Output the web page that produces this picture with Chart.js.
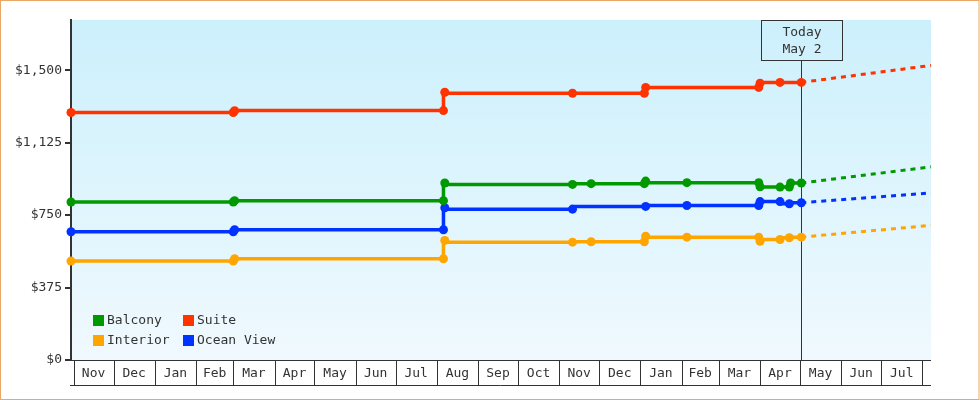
<!DOCTYPE html>
<html>
<head>
<meta charset="utf-8">
<script src="https://cdn.jsdelivr.net/npm/chart.js@4/dist/chart.umd.min.js"></script>
<style>
  html, body { margin: 0; padding: 0; background: #fff; }
  canvas { display: block; }
</style>
</head>
<body>
<canvas id="fareChart" width="980" height="400"></canvas>
<script>
// Cabin fare history (stepped) with a dashed projection past today.
const GREEN = '#009900', RED = '#FF3300', ORANGE = '#FFA500', BLUE = '#0033FF';
const INK = '#333333', FRAME = '#E9A863';
const FONT = "'DejaVu Sans Mono', 'Liberation Mono', monospace";

const X_MIN = '2021-10-30', X_MAX = '2023-08-07T12:00:00Z';
const FIRST_MONTH = [2021, 10]; // Nov 2021 (0-based month)
const MONTH_LABELS = ['Nov', 'Dec', 'Jan', 'Feb', 'Mar', 'Apr', 'May', 'Jun', 'Jul', 'Aug', 'Sep', 'Oct',
  'Nov', 'Dec', 'Jan', 'Feb', 'Mar', 'Apr', 'May', 'Jun', 'Jul'];
const Y_TICKS = [0, 375, 750, 1125, 1500];
const Y_MAX = 1760;

const TODAY = '2023-05-02';
const TODAY_LABEL = ['Today', 'May 2'];

const BALCONY_DATES = ['2021-10-30', '2022-03-01', '2022-03-02', '2022-08-06', '2022-08-07', '2022-11-11', '2022-11-25',
  '2023-01-04', '2023-01-05', '2023-02-05', '2023-03-31', '2023-04-01', '2023-04-16', '2023-04-23', '2023-04-24', '2023-05-02'];
const BALCONY = [818, 818, 825, 825, 916, 909, 913, 913, 926, 918, 918, 897, 895, 895, 916, 916];

const SUITE_DATES = ['2021-10-30', '2022-03-01', '2022-03-02', '2022-08-06', '2022-08-07', '2022-11-11',
  '2023-01-04', '2023-01-05', '2023-03-31', '2023-04-01', '2023-04-16', '2023-05-02'];
const SUITE = [1281, 1281, 1290, 1291, 1386, 1381, 1381, 1411, 1411, 1433, 1437, 1437];

const INTERIOR_DATES = ['2021-10-30', '2022-03-01', '2022-03-02', '2022-08-06', '2022-08-07', '2022-11-11', '2022-11-25',
  '2023-01-04', '2023-01-05', '2023-02-05', '2023-03-31', '2023-04-01', '2023-04-16', '2023-04-23', '2023-05-02'];
const INTERIOR = [512, 512, 524, 524, 619, 610, 612, 612, 641, 636, 636, 615, 624, 633, 636];

const OCEAN_DATES = ['2021-10-30', '2022-03-01', '2022-03-02', '2022-08-06', '2022-08-07', '2022-11-11',
  '2023-01-05', '2023-02-05', '2023-03-31', '2023-04-01', '2023-04-16', '2023-04-23', '2023-05-02'];
const OCEAN = [664, 664, 674, 674, 788, 781, 795, 800, 800, 820, 820, 809, 814];

const FORECAST_DATES = ['2023-05-02', '2023-08-07T12:00:00Z'];
const BALCONY_FC = [916, 1000];
const SUITE_FC = [1437, 1525];
const INTERIOR_FC = [636, 697];
const OCEAN_FC = [814, 865];

const SERIES = [
  { label: 'Balcony', color: GREEN, dates: BALCONY_DATES, values: BALCONY, fc: BALCONY_FC },
  { label: 'Suite', color: RED, dates: SUITE_DATES, values: SUITE, fc: SUITE_FC },
  { label: 'Interior', color: ORANGE, dates: INTERIOR_DATES, values: INTERIOR, fc: INTERIOR_FC },
  { label: 'Ocean View', color: BLUE, dates: OCEAN_DATES, values: OCEAN, fc: OCEAN_FC },
];

const ms = (d) => new Date(d).getTime();
const points = (dates, values) => dates.map((d, i) => ({ x: ms(d), y: values[i] }));

const datasets = [];
for (const s of SERIES) {
  datasets.push({
    label: s.label, data: points(s.dates, s.values), borderColor: s.color, backgroundColor: s.color,
    borderWidth: 3.5, stepped: 'after', pointRadius: 4.5, pointBorderWidth: 0, pointHoverRadius: 4.5, clip: false,
  });
  datasets.push({
    label: s.label + ' forecast', data: points(FORECAST_DATES, s.fc), borderColor: s.color,
    borderWidth: 3, borderDash: [5, 5], pointRadius: 0, pointHoverRadius: 0, clip: false,
  });
}

function monthStarts() {
  const out = [];
  for (let i = 0; i <= MONTH_LABELS.length; i++) out.push(Date.UTC(FIRST_MONTH[0], FIRST_MONTH[1] + i, 1));
  return out;
}

const backdrop = {
  id: 'backdrop',
  beforeDraw(chart) {
    const { ctx, chartArea: a } = chart;
    ctx.save();
    ctx.fillStyle = '#fff';
    ctx.fillRect(0, 0, chart.width, chart.height);
    const g = ctx.createLinearGradient(0, a.top, 0, a.bottom);
    g.addColorStop(0, '#CCF0FC');
    g.addColorStop(1, '#F0F9FE');
    ctx.fillStyle = g;
    ctx.fillRect(a.left, a.top, a.right - a.left, a.bottom - a.top);
    ctx.restore();
  },
  beforeDatasetsDraw(chart) {
    const { ctx, chartArea: a, scales: { x } } = chart;
    const tx = Math.round(x.getPixelForValue(ms(TODAY))) + 0.5;
    ctx.save();
    ctx.strokeStyle = INK; ctx.lineWidth = 1;
    ctx.beginPath(); ctx.moveTo(tx, a.top + 40); ctx.lineTo(tx, a.bottom); ctx.stroke();
    ctx.restore();
  },
};

const decorations = {
  id: 'decorations',
  afterDraw(chart) {
    const { ctx, chartArea: a, scales: { x } } = chart;
    ctx.save();
    ctx.font = `13px ${FONT}`;
    ctx.fillStyle = INK; ctx.strokeStyle = INK; ctx.lineWidth = 1;

    // month boxes under the axis
    const starts = monthStarts();
    const boxBottom = a.bottom + 25;
    ctx.beginPath();
    ctx.moveTo(a.left, Math.round(a.bottom) + 0.5); ctx.lineTo(a.right, Math.round(a.bottom) + 0.5);
    ctx.moveTo(a.left - 1, boxBottom + 0.5); ctx.lineTo(a.right, boxBottom + 0.5);
    for (const t of starts) {
      const px = Math.round(x.getPixelForValue(t)) + 0.5;
      ctx.moveTo(px, a.bottom); ctx.lineTo(px, boxBottom);
    }
    ctx.stroke();
    ctx.textAlign = 'center'; ctx.textBaseline = 'middle';
    MONTH_LABELS.forEach((m, i) => {
      const cx = (x.getPixelForValue(starts[i]) + x.getPixelForValue(starts[i + 1])) / 2;
      ctx.fillText(m, cx, a.bottom + 13.5);
    });

    // today marker box
    const tx = Math.round(x.getPixelForValue(ms(TODAY)));
    ctx.strokeRect(tx - 40 + 0.5, a.top + 0.5, 81, 40);
    ctx.fillText(TODAY_LABEL[0], tx + 1, a.top + 13);
    ctx.fillText(TODAY_LABEL[1], tx + 1, a.top + 30);

    // legend, two columns inside the plot
    ctx.textAlign = 'left';
    SERIES.forEach((s, i) => {
      const lx = a.left + 22 + (i % 2) * 90;
      const ly = a.top + 295 + Math.floor(i / 2) * 20;
      ctx.fillStyle = s.color;
      ctx.fillRect(lx, ly, 11, 11);
      ctx.fillStyle = INK;
      ctx.fillText(s.label, lx + 14, ly + 6);
    });

    ctx.strokeStyle = FRAME;
    ctx.strokeRect(0.5, 0.5, chart.width - 1.5, chart.height - 1);
    ctx.restore();
  },
};

new Chart(document.getElementById('fareChart'), {
  type: 'line',
  data: { datasets },
  options: {
    responsive: false, animation: false, devicePixelRatio: 1,
    layout: { padding: { top: 20, right: 49, bottom: 40, left: 0 } },
    plugins: { legend: { display: false }, tooltip: { enabled: false } },
    scales: {
      x: { type: 'linear', display: false, min: ms(X_MIN), max: ms(X_MAX) },
      y: {
        min: 0, max: Y_MAX,
        afterFit: (s) => { s.width = 71; },
        afterBuildTicks: (s) => { s.ticks = Y_TICKS.map((v) => ({ value: v })); },
        ticks: { padding: 3, color: INK, font: { family: FONT, size: 13 }, callback: (v) => '$' + v.toLocaleString('en-US') },
        grid: { drawOnChartArea: false, tickLength: 6, color: INK, lineWidth: 2 },
        border: { color: INK, width: 2 },
      },
    },
  },
  plugins: [backdrop, decorations],
});
</script>
</body>
</html>
